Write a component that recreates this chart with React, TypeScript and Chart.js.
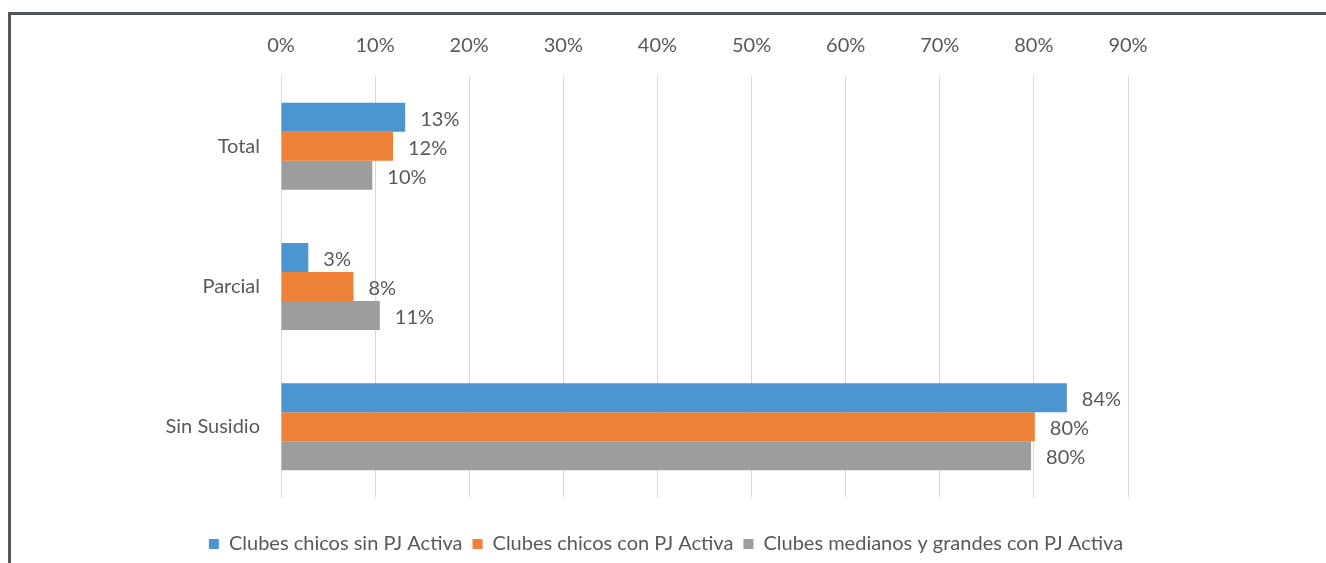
import React, { useEffect, useRef } from "react";
import { Chart, registerables } from "chart.js";

Chart.register(...registerables);

const categories = ["Total", "Parcial", "Sin Susidio"];
const seriesNames = [
  "Clubes chicos sin PJ Activa",
  "Clubes chicos con PJ Activa",
  "Clubes medianos y grandes con PJ Activa",
];
const smallNoPJ = [13.2, 2.9, 83.5];
const smallPJ = [11.9, 7.7, 80.1];
const mediumLargePJ = [9.7, 10.5, 79.7];
const tickValues = [0, 10, 20, 30, 40, 50, 60, 70, 80, 90];
const colors = ["#4b96d1", "#ef8238", "#9c9d9f"];

const FONT = "Lato, 'Noto Sans', sans-serif";
const SIZE = 20;
const TEXT = "#595959";

const valueLabels = {
  id: "valueLabels",
  afterDatasetsDraw(chart: any) {
    const ctx = chart.ctx;
    ctx.save();
    ctx.font = `${SIZE}px ${FONT}`;
    ctx.fillStyle = TEXT;
    ctx.textAlign = "left";
    ctx.textBaseline = "middle";
    chart.data.datasets.forEach((ds: any, di: number) => {
      const meta = chart.getDatasetMeta(di);
      meta.data.forEach((bar: any, i: number) => {
        const v = ds.data[i];
        ctx.fillText(Math.round(v) + "%", bar.x + 15, bar.y + 2);
      });
    });
    ctx.restore();
  },
};

const legendPlacer = {
  id: "legendPlacer",
  beforeDraw(chart: any) {
    const lg = chart.legend;
    if (!lg) return;
    const h = lg.height;
    lg.left = 0;
    lg.right = 1310;
    lg.top = 509;
    lg.bottom = 509 + h;
  },
};

export default function App() {
  const ref = useRef<HTMLCanvasElement | null>(null);
  useEffect(() => {
    if (!ref.current) return;
    const chart = new Chart(ref.current, {
      type: "bar",
      data: {
        labels: categories,
        datasets: [smallNoPJ, smallPJ, mediumLargePJ].map((d, i) => ({
          label: seriesNames[i],
          data: d,
          backgroundColor: colors[i],
          borderWidth: 0,
          barPercentage: 1,
          categoryPercentage: 0.62,
        })),
      },
      options: {
        indexAxis: "y",
        animation: false,
        responsive: false,
        maintainAspectRatio: false,
        layout: { padding: { left: 0, right: 198, top: 0, bottom: 26 } },
        plugins: {
          tooltip: { enabled: false },
          legend: {
            position: "bottom",
            labels: {
              boxWidth: 10,
              boxHeight: 10,
              padding: 10,
              color: TEXT,
              font: { family: FONT, size: SIZE },
            },
          },
        },
        scales: {
          x: {
            position: "top",
            min: 0,
            max: 90,
            afterBuildTicks(axis: any) {
              axis.ticks = tickValues.map((v) => ({ value: v }));
            },
            afterFit(axis: any) {
              axis.height = 61;
            },
            grid: { color: "#d9d9d9", lineWidth: 1, drawTicks: false },
            border: { display: false },
            ticks: {
              padding: 18,
              color: TEXT,
              font: { family: FONT, size: SIZE },
              callback: (v: any) => v + "%",
            },
          },
          y: {
            grid: { display: false },
            border: { display: false },
            afterFit(axis: any) {
              axis.width = 270;
            },
            ticks: {
              padding: 13,
              color: TEXT,
              font: { family: FONT, size: SIZE },
            },
          },
        },
      },
      plugins: [valueLabels, legendPlacer],
    });
    return () => chart.destroy();
  }, []);
  return (
    <div
      style={{
        position: "absolute",
        left: 8,
        top: 12,
        width: 1318,
        height: 551,
        boxSizing: "border-box",
        borderTop: "3px solid #50565c",
        borderLeft: "3px solid #50565c",
        background: "#fff",
        overflow: "hidden",
      }}
    >
      <canvas ref={ref} width={1315} height={548} style={{ display: "block" }} />
    </div>
  );
}
